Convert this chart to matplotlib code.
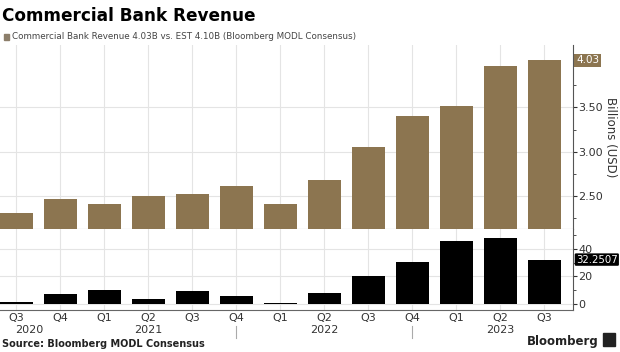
import matplotlib.pyplot as plt
import numpy as np

quarters = ['Q3', 'Q4', 'Q1', 'Q2', 'Q3', 'Q4', 'Q1', 'Q2', 'Q3', 'Q4', 'Q1', 'Q2', 'Q3']
years = {0: '2020', 3: '2021', 7: '2022', 11: '2023'}
revenue = [2.31, 2.47, 2.41, 2.50, 2.53, 2.62, 2.41, 2.68, 3.05, 3.40, 3.51, 3.97, 4.03]
growth = [1.0, 7.1, 10.3, 3.5, 9.3, 5.7, 0.3, 8.1, 20.5, 30.2, 46.0, 48.0, 32.2507]

gold = '#8c7550'
grid = '#e4e4e4'
txt = '#333333'

fig = plt.figure(figsize=(6.2, 3.52), dpi=100)
ax1 = fig.add_axes([0.0, 0.349, 0.924, 0.523])
ax2 = fig.add_axes([0.0, 0.119, 0.924, 0.230])
x = np.arange(len(quarters))

ax1.bar(x, np.array(revenue) - 2.0, bottom=2.0, width=0.75, color=gold, zorder=3)
ax2.bar(x, growth, width=0.75, color='black', zorder=3)

ax1.set_ylim(2.13, 4.2)
ax2.set_ylim(-4.7, 54.5)
for ax in (ax1, ax2):
    ax.set_xlim(-0.375, 12.65)
    ax.yaxis.tick_right()
    ax.set_xticks(x)
    ax.grid(True, color=grid, lw=0.8, zorder=0)
    for s in ('top', 'left'):
        ax.spines[s].set_visible(False)
    ax.spines['right'].set_color('#555555')
    ax.spines['bottom'].set_color('#999999')
    ax.tick_params(axis='y', labelsize=8, colors=txt, length=3, pad=1)
    ax.tick_params(axis='y', which='minor', length=2, colors=txt)
    ax.tick_params(axis='x', length=0)

ax1.set_yticks([2.5, 3.0, 3.5])
ax1.set_yticklabels(['2.50', '3.00', '3.50'])
ax1.set_yticks([2.25, 2.75, 3.25, 3.75, 4.0], minor=True)
ax1.set_xticklabels([])
ax1.yaxis.set_label_position('right')
ax1.set_ylabel('Billions (USD)', rotation=270, fontsize=8.5, color=txt, labelpad=10)

ax2.set_yticks([0, 20, 40])
ax2.set_yticks([10, 30, 50], minor=True)
ax2.spines['bottom'].set_color('#666666')
ax2.set_xticklabels(quarters, fontsize=8, color=txt)
ax2.tick_params(axis='x', pad=2)

ax1.text(12.72, revenue[-1], f'{revenue[-1]:.2f}', fontsize=7.5,
         color='white', va='center', ha='left',
         bbox=dict(boxstyle='square,pad=0.15', fc=gold, ec='none'))
ax2.text(12.72, growth[-1], f'{growth[-1]:.4f}', fontsize=7.3, color='white', va='center', ha='left',
         bbox=dict(boxstyle='round,pad=0.12', fc='black', ec='none'))

for i, yr in years.items():
    xi = i + 0.3 if i == 0 else i
    ax2.text(xi, -0.19, yr, transform=ax2.get_xaxis_transform(), fontsize=8, color=txt,
             ha='center', va='top')
for i in (5, 9):
    ax2.plot([i, i], [-0.2, -0.34], transform=ax2.get_xaxis_transform(), color='#aaaaaa',
             lw=0.8, clip_on=False)

fig.text(0.003, 0.955, 'Commercial Bank Revenue', fontsize=12.2, fontweight='bold', va='center')
fig.patches.append(plt.Rectangle((0.006, 0.887), 0.009, 0.016, color='#8c7e6a',
                                 transform=fig.transFigure))
fig.text(0.019, 0.895, 'Commercial Bank Revenue 4.03B vs. EST 4.10B (Bloomberg MODL Consensus)',
         fontsize=6.3, color='#444444', va='center')
fig.text(0.003, 0.008, 'Source: Bloomberg MODL Consensus', fontsize=7, fontweight='bold',
         color='#222222', va='bottom')
fig.text(0.965, 0.012, 'Bloomberg', fontsize=8.5, fontweight='bold', color='#222222',
         va='bottom', ha='right')
fig.patches.append(plt.Rectangle((0.972, 0.018), 0.02, 0.035, color='#222222',
                                 transform=fig.transFigure))

fig.savefig('out.png', dpi=100)
